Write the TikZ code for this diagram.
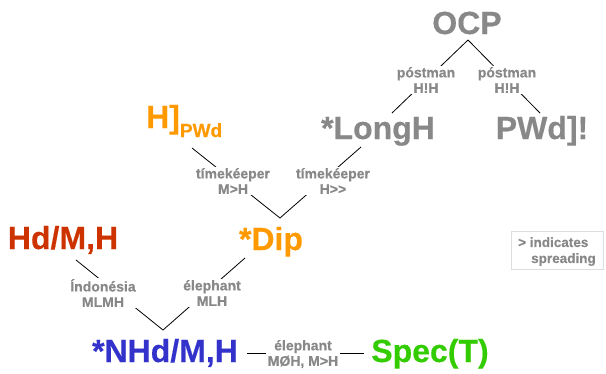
\documentclass[tikz,border=0pt]{standalone}
\usepackage{fontspec}
\setmainfont{Liberation Sans}[BoldFeatures={FakeBold=0.4}]
\definecolor{gr}{HTML}{888888}
\definecolor{orng}{HTML}{FF9900}
\definecolor{rd}{HTML}{CC3300}
\definecolor{bl}{HTML}{3333CC}
\definecolor{grn}{HTML}{33CC00}
\definecolor{lgr}{HTML}{DDDDDD}
\begin{document}
\begin{tikzpicture}[x=1pt,y=-1pt,
  big/.style={font=\fontsize{32}{32}\selectfont\bfseries, inner sep=0pt, anchor=base},
  lab/.style={font=\fontsize{14}{15.5}\selectfont\bfseries, text=gr, align=center, fill=white, inner sep=1.5pt},
  conn/.style={draw=black, line width=0.8pt}]
\useasboundingbox (0,0) rectangle (606,373);
% connector ends
\coordinate (ocpA) at (468,40);
\coordinate (longT) at (392,113);
\coordinate (pwdT) at (540,113);
\coordinate (hpB) at (192,148);
\coordinate (longB) at (361,147);
\coordinate (dipA) at (280,218);
\coordinate (hdB) at (76,260);
\coordinate (dipB) at (245,258);
\coordinate (nhdA) at (163,330);
\coordinate (nhdR) at (247,353);
\coordinate (specL) at (364,353);
% connectors
\draw[conn] (ocpA) -- (longT);
\draw[conn] (ocpA) -- (pwdT);
\draw[conn] (hpB) -- (dipA) -- (longB);
\draw[conn] (hdB) -- (nhdA) -- (dipB);
\draw[conn] (nhdR) -- (specL);
% edge labels
\node[lab] (p1) at (426,80) {póstman\\H!H};
\node[lab] (p2) at (507,80) {póstman\\H!H};
\node[lab] (t1) at (233,181) {tímekéeper\\M>H};
\node[lab] (t2) at (333,181) {tímekéeper\\H>{}>};
\node[lab] (i1) at (103,293) {Índonésia\\MLMH};
\node[lab] (e1) at (212,293) {élephant\\MLH};
\node[lab] (e2) at (303,354) {élephant\\MØH, M>H};
% main nodes
\node[big, text=gr] (ocp) at (467,34) {OCP};
\node[big, text=gr] (long) at (378,139) {*LongH};
\node[big, text=gr] (pwd) at (542,139) {PWd]!};
\node[big, text=orng, anchor=base west] (hp) at (146,128) {H]\raisebox{-9pt}{\fontsize{19}{19}\selectfont PWd}};
\node[big, text=orng] (dip) at (271,250) {*Dip};
\node[big, text=rd] (hd) at (63,249) {Hd/M,H};
\node[big, text=bl] (nhd) at (165,362) {*NHd/M,H};
\node[big, text=grn] (spec) at (430,362) {Spec(T)};
% legend
\node[draw=lgr, line width=1pt, inner sep=0pt, minimum width=92pt, minimum height=38pt, anchor=north west] (leg) at (511,231) {};
\node[font=\fontsize{13.5}{16}\selectfont\bfseries, text=gr, align=left, inner sep=0pt, anchor=north west] (legt) at (518,237) {> indicates\\\hspace{13pt}spreading};
\end{tikzpicture}
\end{document}
